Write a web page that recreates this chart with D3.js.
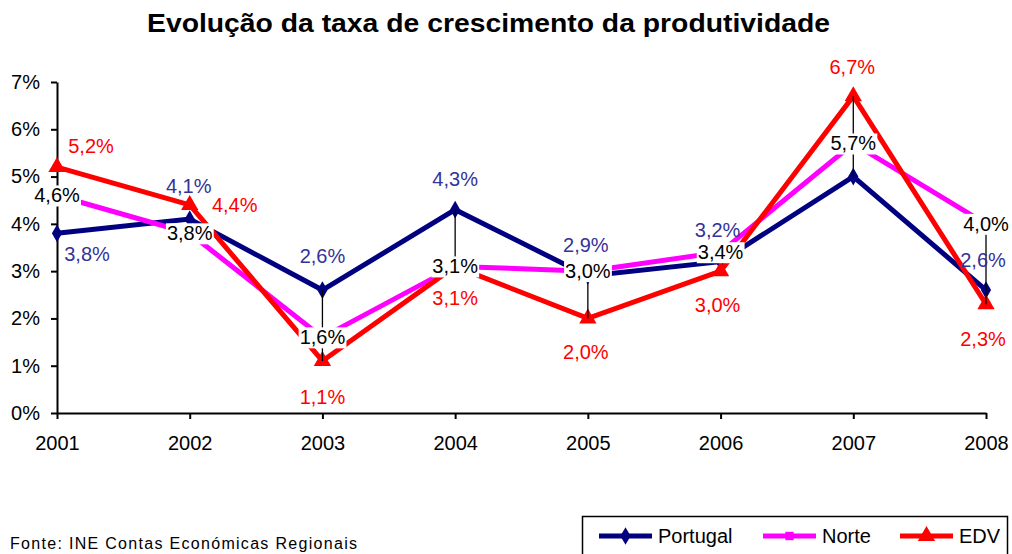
<!DOCTYPE html>
<html><head><meta charset="utf-8">
<script src="https://cdn.jsdelivr.net/npm/d3@7"></script>
<style>body{margin:0;background:#fff}svg{display:block}text{font-family:"Liberation Sans",Arial,sans-serif}</style>
</head><body><svg id="c" width="1012" height="554"></svg>
<script>
const years = [2001, 2002, 2003, 2004, 2005, 2006, 2007, 2008];
const portugal = [3.8, 4.1, 2.6, 4.3, 2.9, 3.2, 5.0, 2.6];
const norte = [4.6, 3.8, 1.6, 3.1, 3.0, 3.4, 5.7, 4.0];
const edv = [5.2, 4.4, 1.1, 3.1, 2.0, 3.0, 6.7, 2.3];
const portugalLabelShown = [true, true, true, true, true, true, false, true];
const yTicks = [0, 1, 2, 3, 4, 5, 6, 7];
const seriesNames = ["Portugal", "Norte", "EDV"];
const titleText = "Evolução da taxa de crescimento da produtividade";
const sourceText = "Fonte: INE  Contas Económicas Regionais";
// leader lines: [year, from value, to value]
const leaders = [[2003, 2.6, 1.1], [2004, 4.3, 3.1], [2005, 3.0, 2.0], [2007, 6.7, 5.0], [2008, 4.0, 2.3]];

// label offsets (pixels) - styling
const portugalOffsets = [[30, 21], [-1, -33], [0, -34], [0, -31], [-2, -31], [-3, -32], [0, -32], [-3, -30]];
const edvOffsets = [[34, -21], [45, 0], [0, 36], [0, 32], [-2, 34], [-3, 34], [-1, -29], [-3, 35]];

const FONT = "'Liberation Sans', Arial, sans-serif";
const svg = d3.select("#c");
const x = d3.scalePoint().domain(years).range([57, 986]);
const y = d3.scaleLinear().domain([0, 7]).range([413, 82]);
const fmt = v => d3.format(".1f")(v).replace(".", ",") + "%";

// title
svg.append("text").attr("x", 147).attr("y", 32)
  .attr("font-size", 25).attr("font-weight", "bold")
  .attr("textLength", 683).attr("lengthAdjust", "spacingAndGlyphs")
  .text(titleText);

// axes
const ya = svg.append("g").attr("transform", "translate(57,0)")
  .call(d3.axisLeft(y).tickValues(yTicks).tickFormat(d => d + "%").tickSize(6).tickSizeOuter(0));
const xa = svg.append("g").attr("transform", "translate(0,413)")
  .call(d3.axisBottom(x).tickSize(6).tickSizeOuter(0).tickPadding(13));
[ya, xa].forEach(g => {
  g.selectAll("path.domain").attr("stroke", "#000").attr("stroke-width", 2);
  g.selectAll(".tick line").attr("stroke", "#000").attr("stroke-width", 2);
  g.selectAll(".tick text").attr("font-size", 20).attr("fill", "#000").attr("font-family", FONT);
});
ya.selectAll(".tick text").attr("x", -17);
xa.selectAll(".tick text").attr("dy", "0.9em");

const series = [
  {name: "Portugal", vals: portugal, color: "#000080", sym: d3.symbolDiamond, size: 90},
  {name: "Norte", vals: norte, color: "#FF00FF", sym: d3.symbolSquare, size: 70},
  {name: "EDV", vals: edv, color: "#FF0000", sym: d3.symbolTriangle, size: 130}
];
const line = d3.line().x((d, i) => x(years[i])).y(d => y(d));
series.forEach(s => {
  svg.append("path").attr("d", line(s.vals)).attr("fill", "none")
    .attr("stroke", s.color).attr("stroke-width", 5).attr("stroke-linejoin", "miter");
  svg.append("g").selectAll("path").data(s.vals).join("path")
    .attr("transform", (d, i) => `translate(${x(years[i])},${y(d)})`)
    .attr("d", d3.symbol().type(s.sym).size(s.size)).attr("fill", s.color);
});

// leader lines
svg.append("g").selectAll("line").data(leaders).join("line")
  .attr("x1", d => x(d[0])).attr("x2", d => x(d[0]))
  .attr("y1", d => y(d[1])).attr("y2", d => y(d[2]))
  .attr("stroke", "#000").attr("stroke-width", 1.3);

// labels
const lab = svg.append("g").attr("font-size", 20).attr("text-anchor", "middle");
portugal.forEach((v, i) => {
  if (!portugalLabelShown[i]) return;
  lab.append("text").attr("x", x(years[i]) + portugalOffsets[i][0]).attr("y", y(v) + portugalOffsets[i][1])
    .attr("dy", "0.35em").attr("fill", "#333399").text(fmt(v));
});
edv.forEach((v, i) => {
  lab.append("text").attr("x", x(years[i]) + edvOffsets[i][0]).attr("y", y(v) + edvOffsets[i][1])
    .attr("dy", "0.35em").attr("fill", "#FF0000").text(fmt(v));
});
norte.forEach((v, i) => {
  const g = lab.append("g");
  const t = g.append("text").attr("x", x(years[i])).attr("y", y(v)).attr("dy", "0.35em").attr("fill", "#000").text(fmt(v));
  const b = t.node().getBBox();
  g.insert("rect", "text").attr("x", b.x - 1).attr("y", b.y + 1).attr("width", b.width + 2).attr("height", b.height - 1).attr("fill", "#fff");
});

// source
svg.append("text").attr("x", 10).attr("y", 549).attr("font-size", 16)
  .attr("textLength", 347).attr("lengthAdjust", "spacing").text(sourceText);

// legend
const lg = svg.append("g");
lg.append("rect").attr("x", 582.5).attr("y", 516.5).attr("width", 425).attr("height", 45)
  .attr("fill", "#fff").attr("stroke", "#000").attr("stroke-width", 1.5);
const legX = [599, 763, 900];
series.forEach((s, i) => {
  const gx = legX[i];
  lg.append("line").attr("x1", gx).attr("x2", gx + 53).attr("y1", 536).attr("y2", 536)
    .attr("stroke", s.color).attr("stroke-width", 5);
  lg.append("path").attr("transform", `translate(${gx + 26.5},536)`)
    .attr("d", d3.symbol().type(s.sym).size(s.size)).attr("fill", s.color);
  lg.append("text").attr("x", gx + 59).attr("y", 543).attr("font-size", 20).attr("fill", "#000").text(seriesNames[i]);
});
</script></body></html>
